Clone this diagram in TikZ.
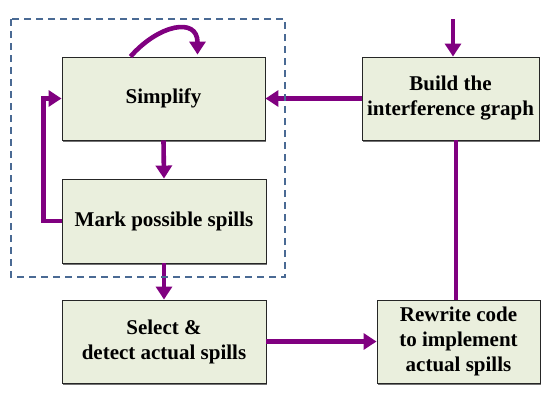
\documentclass[tikz,border=0pt]{standalone}
\usepackage{fontspec}
\setmainfont{Liberation Serif}
\usetikzlibrary{arrows.meta,shadows}

\definecolor{flowpurple}{RGB}{128,0,128}
\definecolor{boxfill}{RGB}{234,239,221}
\definecolor{dashblue}{RGB}{74,106,148}

\begin{document}
\begin{tikzpicture}[x=1pt, y=-1pt,
    box/.style={draw=black!85,line width=0.9pt,fill=boxfill,align=center,inner sep=2pt,
      font=\bfseries\fontsize{21}{25}\selectfont,
      drop shadow={shadow xshift=0.8pt,shadow yshift=-1.8pt,fill=black!55,opacity=1}},
    flow/.style={-{Triangle[width=16pt,length=13pt]},line width=4.6pt,flowpurple},
    link/.style={line width=4.6pt,flowpurple}]
      \useasboundingbox (0,0) rectangle (560,408);
      \node[box,minimum width=203pt,minimum height=83pt] (simplify) at (163.5, 98.5) {Simplify};
      \node[box,minimum width=204pt,minimum height=84pt] (mark) at (164, 221) {Mark possible spills};
      \node[box,minimum width=204pt,minimum height=83pt] (select) at (164, 341.5) {Select \&\\detect actual spills};
      \node[box,minimum width=177pt,minimum height=83pt] (build) at (450.5, 98.5) {Build the\\interference graph};
      \node[box,minimum width=163pt,minimum height=83pt] (rewrite) at (458.5, 341.5) {Rewrite code\\to implement\\actual spills};
      \coordinate (start) at (453, 19);
      \draw[flow] (start) -- (start |- build.north);
      \draw[flow] (build.west) -- (simplify.east);
      \draw[link] ([xshift=-2.5pt]rewrite.north) -- ([xshift=-2.5pt]rewrite.north |- build.south);
      \draw[flow] (simplify.south) -- (mark.north);
      \draw[flow] (mark.south) -- (select.north);
      \draw[flow] (select.east) -- (rewrite.west);
      \draw[flow] (mark.west) -- ++(-18,0) |- (simplify.west);
      \draw[flow] ([xshift=-33pt]simplify.north) .. controls +(28,-32) and +(0,-38) .. ([xshift=34pt,yshift=2pt]simplify.north);
      \draw[dashblue,line width=1.2pt,dash pattern=on 7pt off 5pt] (11,19) rectangle (285,277);
   \end{tikzpicture}
\end{document}
